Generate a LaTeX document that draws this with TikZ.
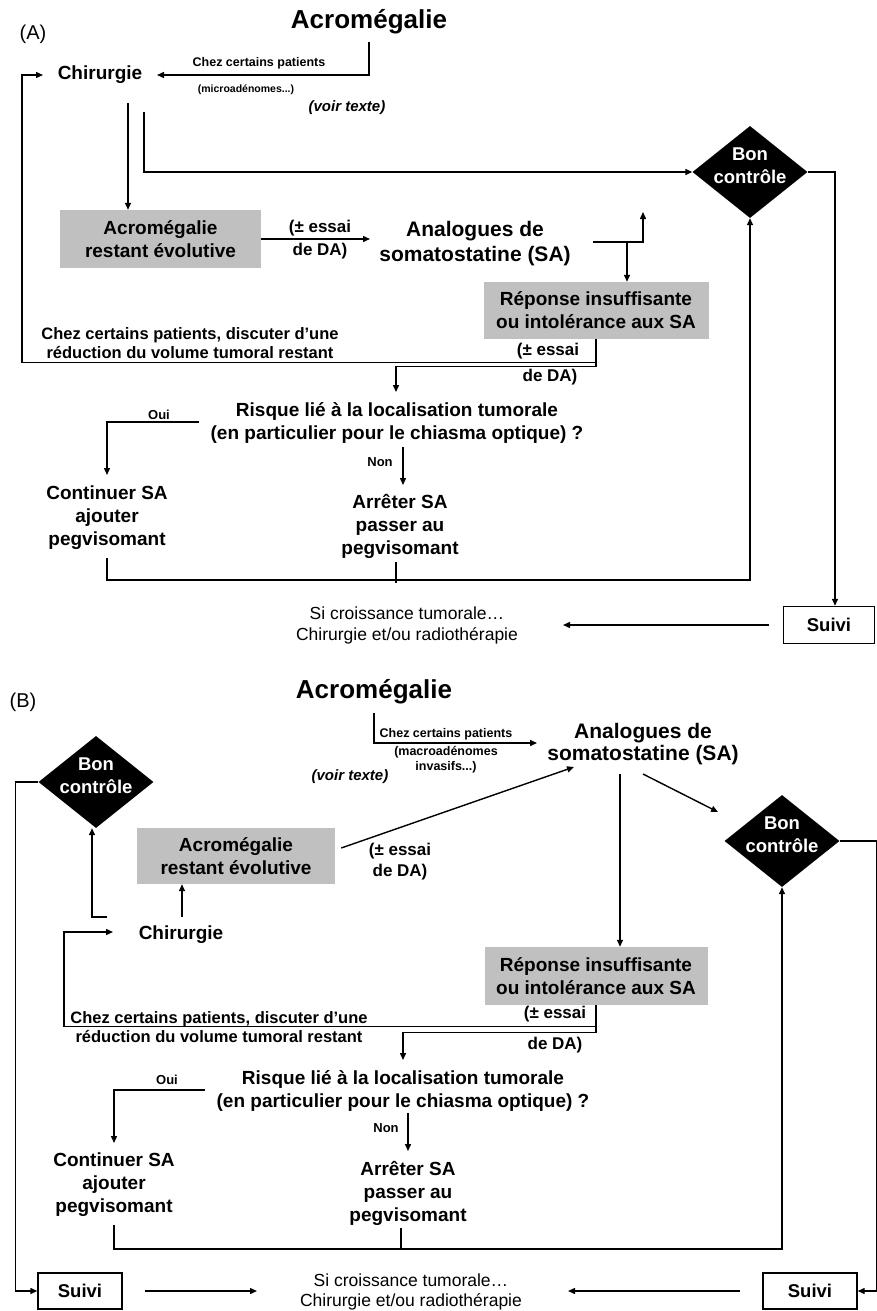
\documentclass[tikz,border=0pt]{standalone}
\usepackage{fontspec}
\setmainfont{Liberation Sans}
\usetikzlibrary{arrows.meta,shapes.geometric}
\definecolor{boxgray}{RGB}{192,192,192}
\begin{document}
\begin{tikzpicture}[x=1pt,y=-1pt,
  ln/.style={line width=1.4pt,line cap=butt},
  arr/.style={ln,-{Triangle[length=7pt,width=6pt]}},
  txt/.style={inner sep=0pt,align=center},
  ttl/.style={font=\fontsize{26}{30}\selectfont\bfseries},
  mainf/.style={font=\fontsize{19}{23}\selectfont\bfseries},
  anaf/.style={font=\fontsize{21}{25}\selectfont\bfseries},
  smf/.style={font=\fontsize{12.5}{15}\selectfont\bfseries},
  voirf/.style={font=\fontsize{15}{18}\selectfont\bfseries\itshape},
  essf/.style={font=\fontsize{17}{23}\selectfont\bfseries},
  discf/.style={font=\fontsize{16.5}{19.5}\selectfont\bfseries},
  ouif/.style={font=\fontsize{13}{15}\selectfont\bfseries},
  regf/.style={font=\fontsize{17.5}{21}\selectfont},
  gbox/.style={fill=boxgray,inner sep=0pt,align=center,font=\fontsize{19}{23}\selectfont\bfseries},
  sbox/.style={draw,line width=1.4pt,inner sep=0pt,minimum height=36pt,font=\fontsize{18.5}{22}\selectfont\bfseries},
  diam/.style={diamond,fill=black,inner sep=0pt,minimum width=115pt,minimum height=92pt},
  dtxt/.style={inner sep=0pt,align=center,text=white,font=\fontsize{18.5}{23}\selectfont\bfseries}
]
\fill[white] (0,0) rectangle (877,1311);
\useasboundingbox (0,0) rectangle (877,1311);

% ================= (A) =================
\node[txt,font=\fontsize{20}{24}\selectfont] (labA) at (33,34) {(A)};
\node[txt,ttl] (acroA) at (369,22) {Acromégalie};
\node[txt,smf] (chezA) at (259,63) {Chez certains patients};
\node[txt,font=\fontsize{10.5}{13}\selectfont\bfseries] (microA) at (246,90) {(microadénomes...)};
\node[txt,voirf] (voirA) at (347,108) {(voir texte)};
\node[txt,mainf] (chirA) at (100,75) {Chirurgie};
\node[gbox,minimum width=201pt,minimum height=58pt] (evolA) at (160.5,239) {Acromégalie\\restant évolutive};
\node[txt,essf] (essA) at (320,240) {(± essai\\de DA)};
\node[txt,anaf] (anaA) at (475,244) {Analogues de\\somatostatine (SA)};
\node[gbox,minimum width=225pt,minimum height=57pt] (repA) at (596,310.5) {Réponse insuffisante\\ou intolérance aux SA};
\node[diam] (bcA) at (750,172) {};
\node[dtxt] (bcAt) at ([yshift=6pt]bcA.center) {Bon\\contrôle};
\node[txt,discf] (discA) at (190,343) {Chez certains patients, discuter d’une\\réduction du volume tumoral restant};
\node[txt,essf] (essA2) at (548,351) {(± essai};
\node[txt,essf] (deA2) at (550,377) {de DA)};
\node[txt,mainf] (risqA) at (397,423) {Risque lié à la localisation tumorale\\(en particulier pour le chiasma optique) ?};
\node[txt,ouif] (ouiA) at (159,415) {Oui};
\node[txt,ouif] (nonA) at (380,462) {Non};
\node[txt,mainf] (contA) at (107,518) {Continuer SA\\ajouter\\pegvisomant};
\node[txt,mainf] (arrA) at (400,526) {Arrêter SA\\passer au\\pegvisomant};
\node[txt,regf] (siA) at (407,625) {Si croissance tumorale…\\Chirurgie et/ou radiothérapie};
\node[sbox,minimum width=91pt,minimum height=37pt] (suiviA) at (829,625) {Suivi};

\draw[arr] ([shift={(0,20)}]acroA.center) |- ([shift={(57,0)}]chirA.center);
\draw[arr] ([shift={(28,28)}]chirA.center) -- ([xshift=-32.5pt]evolA.north);
\draw[arr] ([shift={(44,37)}]chirA.center) |- (bcA.west);
\draw[arr] (evolA.east) -- ([shift={(-105,-5)}]anaA.center);
\draw[arr] ([shift={(118,-2)}]anaA.center) -| ([shift={(168,-32)}]anaA.center);
\draw[arr] ([shift={(152,-2)}]anaA.center) -- ([xshift=31pt]repA.north);
\draw[arr] (repA.south) -- ++(0,23) -| ([shift={(-78,0)}]chirA.center) -- ([shift={(-57,0)}]chirA.center);
\draw[arr] (repA.south) -- ++(0,27) -| ([shift={(-1,-31)}]risqA.center);
\draw[arr] ([shift={(-198,-1)}]risqA.center) -| ([shift={(0,-43)}]contA.center);
\draw[arr] ([shift={(6,24)}]risqA.center) -- ([shift={(3,-41)}]arrA.center);
\draw[arr] ([shift={(0,40)}]contA.center) -- ++(0,22) -| (bcA.south);
\draw[ln] ([shift={(-4,36)}]arrA.center) -- ([shift={(-4,57)}]arrA.center);
\draw[arr] (bcA.east) -| ([xshift=6pt]suiviA.north);
\draw[arr] ([xshift=-14pt]suiviA.west) -- ([shift={(156,0)}]siA.center);

% ================= (B) =================
\node[txt,font=\fontsize{20}{24}\selectfont] (labB) at (23,702) {(B)};
\node[txt,ttl] (acroB) at (374,692) {Acromégalie};
\node[txt,smf] (chezB) at (446,734) {Chez certains patients};
\node[txt,font=\fontsize{12.5}{15}\selectfont\bfseries] (macroB) at (446,760) {(macroadénomes\\invasifs...)};
\node[txt,voirf] (voirB) at (350,777) {(voir texte)};
\node[txt,font=\fontsize{21}{22.5}\selectfont\bfseries] (anaB) at (643,744) {Analogues de\\somatostatine (SA)};
\node[diam] (bcL) at (96,782) {};
\node[dtxt] (bcLt) at ([yshift=6pt]bcL.center) {Bon\\contrôle};
\node[diam] (bcR) at (782,841) {};
\node[dtxt] (bcRt) at ([yshift=6pt]bcR.center) {Bon\\contrôle};
\node[gbox,minimum width=198pt,minimum height=56pt] (evolB) at (236,856) {Acromégalie\\restant évolutive};
\node[txt,font=\fontsize{17}{21}\selectfont\bfseries] (essB) at (400,862) {(± essai\\de DA)};
\node[txt,mainf] (chirB) at (181,935) {Chirurgie};
\node[gbox,minimum width=223pt,minimum height=58pt] (repB) at (596,976) {Réponse insuffisante\\ou intolérance aux SA};
\node[txt,discf] (discB) at (219,1027) {Chez certains patients, discuter d’une\\réduction du volume tumoral restant};
\node[txt,essf] (essB2) at (555,1014) {(± essai};
\node[txt,essf] (deB2) at (555,1045) {de DA)};
\node[txt,mainf] (risqB) at (403,1091) {Risque lié à la localisation tumorale\\(en particulier pour le chiasma optique) ?};
\node[txt,ouif] (ouiB) at (167,1080) {Oui};
\node[txt,ouif] (nonB) at (386,1128) {Non};
\node[txt,mainf] (contB) at (114,1185) {Continuer SA\\ajouter\\pegvisomant};
\node[txt,mainf] (arrB) at (408,1193) {Arrêter SA\\passer au\\pegvisomant};
\node[sbox,minimum width=84pt] (suiviBL) at (80,1291) {Suivi};
\node[txt,regf,font=\fontsize{17.5}{20}\selectfont] (siB) at (411,1292) {Si croissance tumorale…\\Chirurgie et/ou radiothérapie};
\node[sbox,minimum width=94pt] (suiviBR) at (810,1291) {Suivi};

\draw[arr] ([shift={(0,21)}]acroB.center) |- ([shift={(-106,-1)}]anaB.center);
\draw[arr] ([shift={(6,-8)}]evolB.east) -- ([shift={(-69,23)}]anaB.center);
\draw[arr] ([shift={(0,30)}]anaB.center) -- ([shift={(-64,-29)}]bcR.center);
\draw[arr] ([shift={(-23,30)}]anaB.center) -- ([xshift=24pt]repB.north);
\draw[arr] ([shift={(1,-18)}]chirB.center) -- ([xshift=-54pt]evolB.south);
\draw[arr] ([shift={(-74,-18)}]chirB.center) -| ([xshift=-4pt]bcL.south);
\draw[arr] (repB.south) -- ++(0,21) -| ([shift={(-117,-3)}]chirB.center) -- ([shift={(-68,-3)}]chirB.center);
\draw[arr] (repB.south) -- ++(0,27) -| ([shift={(0,-31)}]risqB.center);
\draw[arr] ([shift={(-198,-1)}]risqB.center) -| ([shift={(0,-42)}]contB.center);
\draw[arr] ([shift={(5,22)}]risqB.center) -- ([shift={(0,-42)}]arrB.center);
\draw[arr] ([shift={(0,40)}]contB.center) -- ++(0,24) -| (bcR.south);
\draw[ln] ([shift={(-7,35)}]arrB.center) -- ([shift={(-7,56)}]arrB.center);
\draw[arr] (bcL.west) -| ([xshift=-22pt]suiviBL.west) -- (suiviBL.west);
\draw[arr] ([xshift=22pt]suiviBL.east) -- ([shift={(-154,-1)}]siB.center);
\draw[arr] ([xshift=-22pt]suiviBR.west) -- ([shift={(157,-1)}]siB.center);
\draw[arr] (bcR.east) -| ([xshift=18.5pt]suiviBR.east) -- (suiviBR.east);
\end{tikzpicture}
\end{document}
